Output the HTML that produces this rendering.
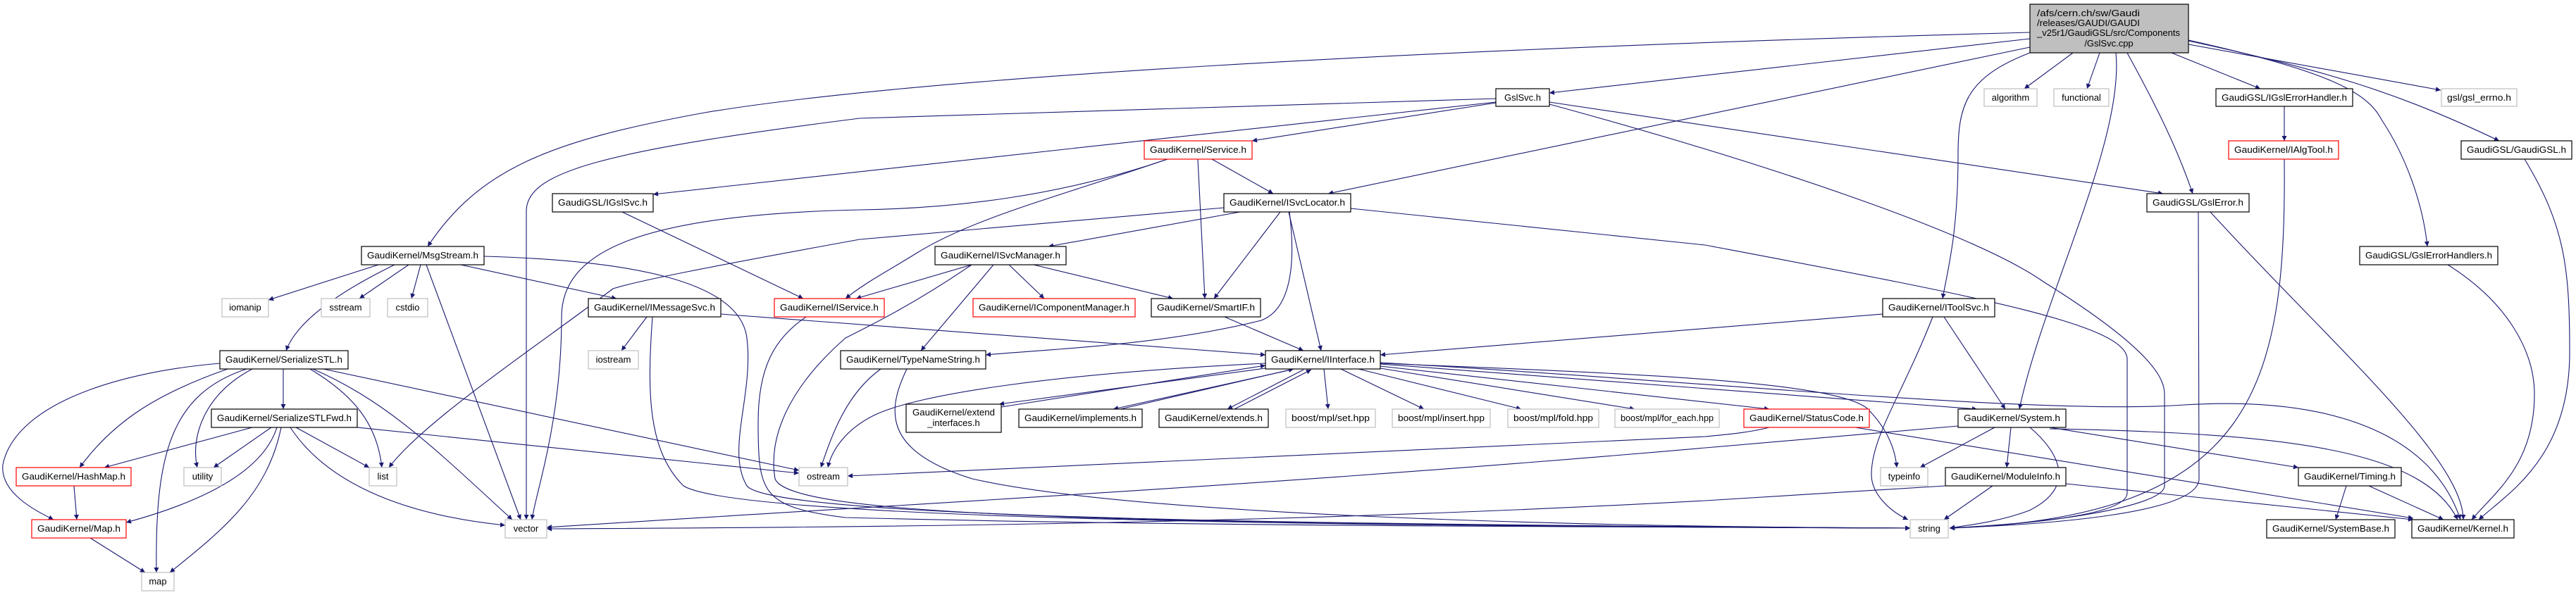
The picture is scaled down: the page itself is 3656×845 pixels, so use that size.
<!DOCTYPE html>
<html><head><meta charset="utf-8"><style>
html,body{margin:0;padding:0;background:#fff;}
svg{display:block;}
text{font-family:"Liberation Sans",sans-serif;font-size:13px;fill:#000;}
.e{fill:none;stroke:#191970;stroke-width:1.1;marker-end:url(#a);}
.b{fill:#fff;stroke:#000;stroke-width:1.2;}
.r{fill:#fff;stroke:#f00;stroke-width:1.2;}
.g{fill:#fff;stroke:#bfbfbf;stroke-width:1.2;}
</style></head><body>
<svg width="3656" height="845" viewBox="0 0 3656 845" xmlns="http://www.w3.org/2000/svg">
<defs><marker id="a" viewBox="0 0 10 10" refX="10" refY="5" markerWidth="10" markerHeight="7" markerUnits="userSpaceOnUse" orient="auto"><path d="M0,0 L10,5 L0,10 z" fill="#191970"/></marker></defs>
<g>
<path class="e" d="M2881,46 C2000,70 1300,110 1000,160 C780,200 680,240 607,350"/>
<path class="e" d="M2881,55 L2199,132"/>
<path class="e" d="M2881,67 L1885,275"/>
<path class="e" d="M2942,75 L2873,126"/>
<path class="e" d="M2980,75 L2962,126"/>
<path class="e" d="M2881,75 C2790,110 2779,150 2779,220 C2779,330 2765,380 2757,424"/>
<path class="e" d="M3003,75 C3015,200 2900,420 2866,581"/>
<path class="e" d="M3019,75 C3060,150 3090,210 3112,275"/>
<path class="e" d="M3082,75 L3208,126"/>
<path class="e" d="M3106,63 L3464,128"/>
<path class="e" d="M3106,58 C3300,100 3400,130 3547,200"/>
<path class="e" d="M3106,57 C3300,100 3360,130 3380,170 C3420,230 3440,300 3445,350"/>
<path class="e" d="M2123,145 L927,276"/>
<path class="e" d="M2123,140 L1220,168 C850,215 747,245 747,300 L747,738"/>
<path class="e" d="M2123,146 L1777,200"/>
<path class="e" d="M2199,145 L3070,275"/>
<path class="e" d="M2199,148 C2500,230 2800,330 2900,400 C3060,500 3072,540 3072,560 L3072,690 C3072,720 2900,745 2767,750"/>
<path class="e" d="M3242,151 L3242,200"/>
<path class="e" d="M3242,226 C3245,550 3200,735 2767,750"/>
<path class="e" d="M3120,301 L3121,680 C3121,730 2900,745 2767,750"/>
<path class="e" d="M3137,301 C3300,480 3496,650 3496,738"/>
<path class="e" d="M3583,226 C3640,320 3647,380 3647,500 C3647,650 3560,700 3518,738"/>
<path class="e" d="M3474,376 C3560,430 3597,500 3597,560 C3597,660 3540,700 3508,738"/>
<path class="e" d="M2672,446 L1959,504"/>
<path class="e" d="M2743,450 C2700,560 2656,620 2656,674 C2656,700 2680,725 2708,738"/>
<path class="e" d="M2759,450 L2846,581"/>
<path class="e" d="M2831,607 L2725,664"/>
<path class="e" d="M2854,607 L2848,664"/>
<path class="e" d="M2881,607 C2920,640 2950,690 2880,725 C2840,740 2800,745 2767,750"/>
<path class="e" d="M2909,607 L3262,664"/>
<path class="e" d="M2909,609 C3250,615 3440,640 3488,738"/>
<path class="e" d="M2779,605 L2420,636 C1800,690 1300,715 776,749"/>
<path class="e" d="M2761,690 L2420,711 C1800,745 1200,749 776,751"/>
<path class="e" d="M2828,690 L2759,738"/>
<path class="e" d="M2932,687 L3425,738"/>
<path class="e" d="M3330,690 L3315,738"/>
<path class="e" d="M3362,690 L3468,738"/>
<path class="e" d="M2633,607 L3425,736"/>
<path class="e" d="M2511,607 C2480,615 2440,618 2420,620 L1203,676"/>
<path class="e" d="M1796,516 C1500,530 1300,560 1240,590 C1200,610 1180,640 1175,664"/>
<path class="e" d="M1421,578 L1796,519"/>
<path class="e" d="M1796,523 L1418,574"/>
<path class="e" d="M1833,525 L1580,581"/>
<path class="e" d="M1590,581 L1836,524"/>
<path class="e" d="M1850,525 L1742,581"/>
<path class="e" d="M1752,581 L1861,525"/>
<path class="e" d="M1879,524 L1885,581"/>
<path class="e" d="M1903,524 L2021,581"/>
<path class="e" d="M1928,524 L2159,581"/>
<path class="e" d="M1959,523 L2320,581"/>
<path class="e" d="M1959,520 L2511,581"/>
<path class="e" d="M1959,517 L2806,581"/>
<path class="e" d="M1959,516 C2300,530 2600,540 2650,580 C2680,610 2690,640 2692,664"/>
<path class="e" d="M1959,515 C2400,540 2900,590 3100,575 C3350,560 3460,640 3492,738"/>
<path class="e" d="M537,376 L381,426"/>
<path class="e" d="M580,376 L510,424"/>
<path class="e" d="M597,376 L584,424"/>
<path class="e" d="M560,376 C470,420 420,460 406,498"/>
<path class="e" d="M605,376 L739,738"/>
<path class="e" d="M654,376 L875,424"/>
<path class="e" d="M687,364 C900,370 1050,400 1060,480 C1070,560 1030,640 1060,690 C1100,740 2000,745 2711,750"/>
<path class="e" d="M918,450 L882,498"/>
<path class="e" d="M1023,446 L1796,504"/>
<path class="e" d="M926,450 C918,560 920,640 970,690 C1050,740 2000,748 2711,750"/>
<path class="e" d="M1144,450 C1100,480 1076,520 1076,600 C1076,700 1080,720 1200,735 C1700,748 2300,748 2711,750"/>
<path class="e" d="M1379,376 C1300,430 1240,460 1200,480 C1120,550 1090,620 1100,680 C1120,730 1500,745 2711,750"/>
<path class="e" d="M1287,524 C1260,580 1250,640 1380,680 C1600,730 2200,748 2711,750"/>
<path class="e" d="M1250,524 C1200,560 1180,620 1165,664"/>
<path class="e" d="M883,301 L1140,424"/>
<path class="e" d="M1657,226 C1500,280 1380,310 1300,360 C1260,385 1230,400 1200,424"/>
<path class="e" d="M1700,226 L1710,424"/>
<path class="e" d="M1720,226 L1807,275"/>
<path class="e" d="M1657,226 C1500,280 1350,296 1220,298 C900,305 797,360 797,450 C797,600 760,700 755,738"/>
<path class="e" d="M1760,301 L1488,350"/>
<path class="e" d="M1817,301 L1723,424"/>
<path class="e" d="M1829,301 L1875,498"/>
<path class="e" d="M1830,301 C1840,380 1830,440 1790,455 C1650,490 1500,495 1399,504"/>
<path class="e" d="M1917,296 L2420,348 C2800,420 3019,460 3019,510 L3019,700 C3019,735 2850,745 2767,750"/>
<path class="e" d="M1737,295 L1220,340 C1000,380 900,400 870,410 C750,500 600,600 552,664"/>
<path class="e" d="M1379,376 L1215,424"/>
<path class="e" d="M1432,376 L1482,424"/>
<path class="e" d="M1467,376 L1665,424"/>
<path class="e" d="M1410,376 L1307,498"/>
<path class="e" d="M1738,450 L1850,498"/>
<path class="e" d="M312,516 C150,530 20,580 4,660 C0,700 50,725 76,738"/>
<path class="e" d="M323,524 C220,560 160,600 113,664"/>
<path class="e" d="M350,524 C240,560 220,650 222,813"/>
<path class="e" d="M358,524 C290,560 270,620 280,664"/>
<path class="e" d="M402,524 L402,581"/>
<path class="e" d="M440,524 C500,560 535,600 542,664"/>
<path class="e" d="M444,524 C550,570 620,640 727,738"/>
<path class="e" d="M459,524 L1134,668"/>
<path class="e" d="M358,607 L148,664"/>
<path class="e" d="M385,607 L303,664"/>
<path class="e" d="M393,607 C370,680 260,720 179,742"/>
<path class="e" d="M399,607 C380,700 320,750 241,813"/>
<path class="e" d="M420,607 L524,664"/>
<path class="e" d="M412,607 C460,680 560,730 717,746"/>
<path class="e" d="M507,607 L1134,672"/>
<path class="e" d="M105,690 L109,738"/>
<path class="e" d="M128,764 L206,813"/>
</g>
<g>
<rect x="2881" y="6" width="225" height="69" fill="#bfbfbf" stroke="#000" stroke-width="1.2"/>
<text x="2891" y="23" textLength="146" lengthAdjust="spacingAndGlyphs">/afs/cern.ch/sw/Gaudi</text>
<text x="2891" y="37" textLength="146" lengthAdjust="spacingAndGlyphs">/releases/GAUDI/GAUDI</text>
<text x="2891" y="51" textLength="203" lengthAdjust="spacingAndGlyphs">_v25r1/GaudiGSL/src/Components</text>
<text x="2993" y="66" text-anchor="middle">/GslSvc.cpp</text>
</g>
<g text-anchor="middle">
<rect class="b" x="513" y="350" width="174" height="26"/><text x="600" y="367" textLength="158" lengthAdjust="spacingAndGlyphs">GaudiKernel/MsgStream.h</text>
<rect class="b" x="784" y="275" width="143" height="26"/><text x="855.5" y="292" textLength="127" lengthAdjust="spacingAndGlyphs">GaudiGSL/IGslSvc.h</text>
<rect class="g" x="315" y="424" width="66" height="26"/><text x="348" y="441">iomanip</text>
<rect class="g" x="456" y="424" width="69" height="26"/><text x="490.5" y="441">sstream</text>
<rect class="g" x="550" y="424" width="57" height="26"/><text x="578.5" y="441">cstdio</text>
<rect class="b" x="835" y="424" width="188" height="26"/><text x="929" y="441" textLength="172" lengthAdjust="spacingAndGlyphs">GaudiKernel/IMessageSvc.h</text>
<rect class="r" x="1099" y="424" width="156" height="26"/><text x="1177" y="441" textLength="140" lengthAdjust="spacingAndGlyphs">GaudiKernel/IService.h</text>
<rect class="b" x="312" y="498" width="182" height="26"/><text x="403" y="515" textLength="166" lengthAdjust="spacingAndGlyphs">GaudiKernel/SerializeSTL.h</text>
<rect class="g" x="835" y="498" width="71" height="26"/><text x="870.5" y="515">iostream</text>
<rect class="b" x="300" y="581" width="207" height="26"/><text x="403.5" y="598" textLength="191" lengthAdjust="spacingAndGlyphs">GaudiKernel/SerializeSTLFwd.h</text>
<rect class="r" x="23" y="664" width="163" height="26"/><text x="104.5" y="681" textLength="147" lengthAdjust="spacingAndGlyphs">GaudiKernel/HashMap.h</text>
<rect class="g" x="261" y="664" width="53" height="26"/><text x="287.5" y="681">utility</text>
<rect class="g" x="524" y="664" width="39" height="26"/><text x="543.5" y="681">list</text>
<rect class="g" x="1134" y="664" width="69" height="26"/><text x="1168.5" y="681">ostream</text>
<rect class="r" x="45" y="738" width="134" height="26"/><text x="112" y="755" textLength="118" lengthAdjust="spacingAndGlyphs">GaudiKernel/Map.h</text>
<rect class="g" x="717" y="738" width="59" height="26"/><text x="746.5" y="755">vector</text>
<rect class="g" x="201" y="813" width="46" height="26"/><text x="224" y="830">map</text>
<rect class="b" x="2123" y="126" width="76" height="25"/><text x="2161" y="143">GslSvc.h</text>
<rect class="r" x="1624" y="200" width="153" height="26"/><text x="1700.5" y="217" textLength="137" lengthAdjust="spacingAndGlyphs">GaudiKernel/Service.h</text>
<rect class="b" x="1737" y="275" width="180" height="26"/><text x="1827" y="292" textLength="164" lengthAdjust="spacingAndGlyphs">GaudiKernel/ISvcLocator.h</text>
<rect class="b" x="1327" y="350" width="186" height="26"/><text x="1420" y="367" textLength="170" lengthAdjust="spacingAndGlyphs">GaudiKernel/ISvcManager.h</text>
<rect class="r" x="1381" y="424" width="230" height="26"/><text x="1496" y="441" textLength="214" lengthAdjust="spacingAndGlyphs">GaudiKernel/IComponentManager.h</text>
<rect class="b" x="1634" y="424" width="155" height="26"/><text x="1711.5" y="441" textLength="139" lengthAdjust="spacingAndGlyphs">GaudiKernel/SmartIF.h</text>
<rect class="b" x="1193" y="498" width="206" height="26"/><text x="1296" y="515" textLength="190" lengthAdjust="spacingAndGlyphs">GaudiKernel/TypeNameString.h</text>
<rect class="b" x="1796" y="498" width="163" height="26"/><text x="1877.5" y="515" textLength="147" lengthAdjust="spacingAndGlyphs">GaudiKernel/IInterface.h</text>
<rect class="b" x="1286" y="574" width="135" height="40"/><text x="1353.5" y="590" textLength="117" lengthAdjust="spacingAndGlyphs">GaudiKernel/extend</text><text x="1353.5" y="605">_interfaces.h</text>
<rect class="b" x="1446" y="581" width="175" height="26"/><text x="1533.5" y="598" textLength="159" lengthAdjust="spacingAndGlyphs">GaudiKernel/implements.h</text>
<rect class="b" x="1645" y="581" width="155" height="26"/><text x="1722.5" y="598" textLength="139" lengthAdjust="spacingAndGlyphs">GaudiKernel/extends.h</text>
<rect class="g" x="1825" y="581" width="127" height="26"/><text x="1888.5" y="598" textLength="111" lengthAdjust="spacingAndGlyphs">boost/mpl/set.hpp</text>
<rect class="g" x="1976" y="581" width="139" height="26"/><text x="2045.5" y="598" textLength="123" lengthAdjust="spacingAndGlyphs">boost/mpl/insert.hpp</text>
<rect class="g" x="2140" y="581" width="129" height="26"/><text x="2204.5" y="598" textLength="113" lengthAdjust="spacingAndGlyphs">boost/mpl/fold.hpp</text>
<rect class="g" x="2292" y="581" width="148" height="26"/><text x="2366" y="598" textLength="132" lengthAdjust="spacingAndGlyphs">boost/mpl/for_each.hpp</text>
<rect class="g" x="2816" y="126" width="75" height="25"/><text x="2853.5" y="143">algorithm</text>
<rect class="g" x="2915" y="126" width="78" height="25"/><text x="2954" y="143">functional</text>
<rect class="b" x="3145" y="126" width="194" height="25"/><text x="3242" y="143" textLength="178" lengthAdjust="spacingAndGlyphs">GaudiGSL/IGslErrorHandler.h</text>
<rect class="g" x="3465" y="126" width="107" height="25"/><text x="3518.5" y="143" textLength="91" lengthAdjust="spacingAndGlyphs">gsl/gsl_errno.h</text>
<rect class="r" x="3163" y="200" width="156" height="26"/><text x="3241" y="217" textLength="140" lengthAdjust="spacingAndGlyphs">GaudiKernel/IAlgTool.h</text>
<rect class="b" x="3493" y="200" width="157" height="26"/><text x="3571.5" y="217" textLength="141" lengthAdjust="spacingAndGlyphs">GaudiGSL/GaudiGSL.h</text>
<rect class="b" x="3047" y="275" width="145" height="26"/><text x="3119.5" y="292" textLength="129" lengthAdjust="spacingAndGlyphs">GaudiGSL/GslError.h</text>
<rect class="b" x="3349" y="350" width="196" height="26"/><text x="3447" y="367" textLength="180" lengthAdjust="spacingAndGlyphs">GaudiGSL/GslErrorHandlers.h</text>
<rect class="b" x="2672" y="424" width="159" height="26"/><text x="2751.5" y="441" textLength="143" lengthAdjust="spacingAndGlyphs">GaudiKernel/IToolSvc.h</text>
<rect class="r" x="2475" y="581" width="178" height="26"/><text x="2564" y="598" textLength="162" lengthAdjust="spacingAndGlyphs">GaudiKernel/StatusCode.h</text>
<rect class="b" x="2779" y="581" width="153" height="26"/><text x="2855.5" y="598" textLength="137" lengthAdjust="spacingAndGlyphs">GaudiKernel/System.h</text>
<rect class="g" x="2669" y="664" width="67" height="26"/><text x="2702.5" y="681">typeinfo</text>
<rect class="b" x="2761" y="664" width="171" height="26"/><text x="2846.5" y="681" textLength="155" lengthAdjust="spacingAndGlyphs">GaudiKernel/ModuleInfo.h</text>
<rect class="b" x="3262" y="664" width="146" height="26"/><text x="3335" y="681" textLength="130" lengthAdjust="spacingAndGlyphs">GaudiKernel/Timing.h</text>
<rect class="g" x="2711" y="738" width="54" height="26"/><text x="2738" y="755">string</text>
<rect class="b" x="3217" y="738" width="182" height="26"/><text x="3308" y="755" textLength="166" lengthAdjust="spacingAndGlyphs">GaudiKernel/SystemBase.h</text>
<rect class="b" x="3423" y="738" width="145" height="26"/><text x="3495.5" y="755" textLength="129" lengthAdjust="spacingAndGlyphs">GaudiKernel/Kernel.h</text>
</g>
</svg>
</body></html>
